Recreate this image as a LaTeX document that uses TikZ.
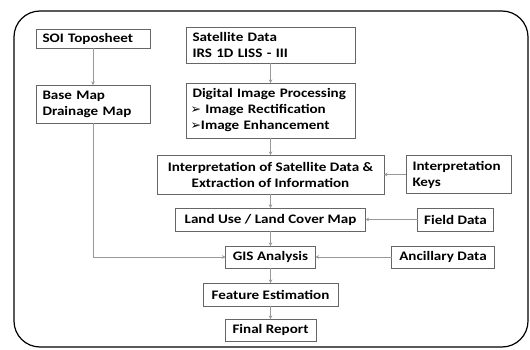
\documentclass[tikz,border=0pt]{standalone}
\usepackage{fontspec}
\newfontfamily\boxfont[FakeStretch=1.16]{Carlito}
\newfontfamily\dingfont{DejaVu Sans}
\usetikzlibrary{positioning,arrows.meta}

\newcommand{\bul}{{\dingfont\fontsize{12.5}{12}\selectfont ➢}}

\begin{document}
\begin{tikzpicture}[x=1pt, y=-1pt,
    bloc/.style={draw=black!60, line width=0.65pt, fill=white,
        font=\boxfont\bfseries\fontsize{13}{16}\selectfont,
        inner xsep=6.5pt, inner ysep=1pt, outer sep=0pt,
        align=center},
    lbloc/.style={bloc, align=left},
    conn/.style={draw=black!40, line width=0.7pt,
        -{Stealth[length=3.5pt, width=3.5pt]}},
    frame/.style={draw=black, line width=1.2pt, rounded corners=26pt}
    ]
    \useasboundingbox (0,0) rectangle (530,350);
    \draw[frame] (14,11) rectangle (528,347);

    % left branch
    \node[lbloc, text width=101pt, minimum height=19pt] (soi) at (93,38.5) {SOI Toposheet};
    \node[lbloc, text width=101pt, minimum height=38pt,
        below=37pt of soi] (base) {Base Map\\Drainage Map};

    % main column
    \node[lbloc, text width=156pt, minimum height=36pt] (sat) at (270.5,45) {Satellite Data\\IRS 1D LISS - III};
    \node[lbloc, text width=156pt, minimum height=55pt,
        below=20pt of sat] (dip) {Digital Image Processing\\
        \hspace*{-2pt}\bul\ Image Rectification\\
        \hspace*{-2pt}\bul Image Enhancement};
    \node[bloc, minimum width=227pt, minimum height=39pt,
        below=17pt of dip] (interp) {Interpretation of Satellite Data \&\\Extraction of Information};
    \node[bloc, minimum width=190pt, minimum height=23pt,
        below=14pt of interp] (lulc) {Land Use / Land Cover Map};
    \node[bloc, minimum width=90pt, minimum height=22pt,
        below=15pt of lulc] (gis) {GIS Analysis};
    \node[bloc, minimum width=135pt, minimum height=23pt,
        below=15pt of gis] (feat) {Feature Estimation};
    \node[bloc, minimum width=91pt, minimum height=22pt,
        below=13pt of feat] (final) {Final Report};

    % inputs from the right
    \node[lbloc, text width=92pt, minimum height=38pt,
        right=22pt of interp] (keys) {Interpretation\\Keys};
    \node[bloc, minimum width=76pt, minimum height=23pt,
        right=52pt of lulc] (field) {Field Data};
    \node[bloc, minimum width=103pt, minimum height=22pt,
        right=76pt of gis] (ancil) {Ancillary Data};

    % connectors
    \draw[conn] (soi) -- (base);
    \draw[conn] (base.south) |- (gis.west);
    \draw[conn] (sat) -- (dip);
    \draw[conn] (dip) -- (interp);
    \draw[conn] (interp) -- (lulc);
    \draw[conn] (lulc) -- (gis);
    \draw[conn] (gis) -- (feat);
    \draw[conn] (feat) -- (final);
    \draw[conn] (keys) -- (interp);
    \draw[conn] (field) -- (lulc);
    \draw[conn] (ancil) -- (gis);
\end{tikzpicture}
\end{document}
